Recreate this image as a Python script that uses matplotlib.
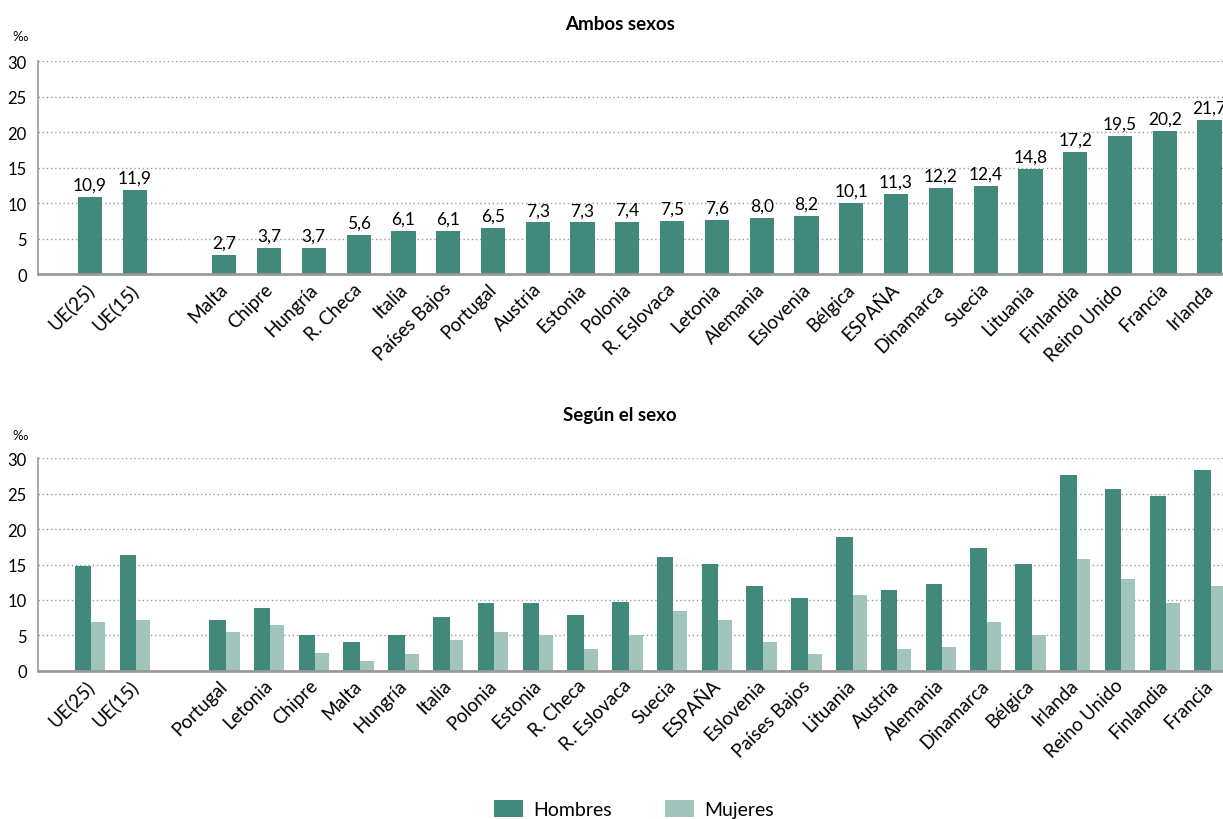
import numpy as np
import matplotlib.pyplot as plt

plt.rcParams['font.family'] = ['Lato', 'DejaVu Sans']

# --- data ---
top_labels = ['UE(25)', 'UE(15)', 'Malta', 'Chipre', 'Hungría', 'R. Checa', 'Italia',
              'Países Bajos', 'Portugal', 'Austria', 'Estonia', 'Polonia', 'R. Eslovaca',
              'Letonia', 'Alemania', 'Eslovenia', 'Bélgica', 'ESPAÑA', 'Dinamarca',
              'Suecia', 'Lituania', 'Finlandia', 'Reino Unido', 'Francia', 'Irlanda']
top_values = [10.9, 11.9, 2.7, 3.7, 3.7, 5.6, 6.1, 6.1, 6.5, 7.3, 7.3, 7.4, 7.5,
              7.6, 8.0, 8.2, 10.1, 11.3, 12.2, 12.4, 14.8, 17.2, 19.5, 20.2, 21.7]

bot_labels = ['UE(25)', 'UE(15)', 'Portugal', 'Letonia', 'Chipre', 'Malta', 'Hungría',
              'Italia', 'Polonia', 'Estonia', 'R. Checa', 'R. Eslovaca', 'Suecia',
              'ESPAÑA', 'Eslovenia', 'Países Bajos', 'Lituania', 'Austria', 'Alemania',
              'Dinamarca', 'Bélgica', 'Irlanda', 'Reino Unido', 'Finlandia', 'Francia']
hombres = [14.8, 16.4, 7.2, 8.9, 5.1, 4.1, 5.1, 7.6, 9.5, 9.5, 7.9, 9.7, 16.1,
           15.1, 12.0, 10.2, 18.9, 11.4, 12.3, 17.4, 15.1, 27.6, 25.6, 24.7, 28.4]
mujeres = [6.9, 7.2, 5.4, 6.4, 2.5, 1.3, 2.3, 4.4, 5.4, 5.1, 3.1, 5.1, 8.5,
           7.2, 4.1, 2.3, 10.7, 3.1, 3.4, 6.9, 5.1, 15.8, 13.0, 9.5, 12.0]

dark = '#40897B'
light = '#A1C4BC'

# slot positions: two EU aggregates, one empty slot, then the countries
pos = np.array([0, 1] + list(range(3, 26)))


def style_axis(ax):
    ax.set_ylim(0, 30)
    ax.set_xlim(-1.16, 25.3)
    ax.set_yticks(range(0, 31, 5))
    ax.yaxis.grid(True, linestyle=(0, (1, 2)), color='#999999', linewidth=1)
    ax.set_axisbelow(True)
    for s in ['top', 'right']:
        ax.spines[s].set_visible(False)
    ax.spines['left'].set_color('#999999')
    ax.spines['left'].set_linewidth(1.2)
    ax.spines['bottom'].set_color('#999999')
    ax.spines['bottom'].set_linewidth(2)
    ax.tick_params(axis='y', length=0, pad=8, labelsize=12)
    ax.tick_params(axis='x', length=0, pad=4, labelsize=13.5)


fig = plt.figure(figsize=(12.23, 8.2), dpi=100)

ax1 = fig.add_axes([38 / 1223, 544.7 / 820, 1185 / 1223, 213 / 820])
bars = ax1.bar(pos, top_values, width=0.54, color=dark)
for b, v in zip(bars, top_values):
    ax1.text(b.get_x() + b.get_width() / 2, v + 0.6, f'{v:.1f}'.replace('.', ','),
             ha='center', va='bottom', fontsize=12.5)
style_axis(ax1)
ax1.set_xticks(pos - 0.12)
ax1.set_xticklabels(top_labels, rotation=45, ha='right', rotation_mode='anchor')

ax2 = fig.add_axes([38 / 1223, 148.3 / 820, 1185 / 1223, 212.4 / 820])
ax2.bar(pos - 0.155, hombres, width=0.37, color=dark, label='Hombres')
ax2.bar(pos + 0.185, mujeres, width=0.31, color=light, label='Mujeres')
style_axis(ax2)
ax2.set_xticks(pos - 0.12)
ax2.set_xticklabels(bot_labels, rotation=45, ha='right', rotation_mode='anchor')

fig.text(620 / 1223, 1 - 25 / 820, 'Ambos sexos', ha='center', va='center',
         fontsize=13.5, fontweight='bold')
fig.text(620 / 1223, 1 - 416 / 820, 'Según el sexo', ha='center', va='center',
         fontsize=13.5, fontweight='bold')
fig.text(12 / 1223, 1 - 37 / 820, '‰', ha='left', va='center', fontsize=9.5)
fig.text(12 / 1223, 1 - 436 / 820, '‰', ha='left', va='center', fontsize=9.5)

fig.legend(loc='upper left', bbox_to_anchor=(494 / 1223, 1 - 801 / 820), ncol=2,
           frameon=False, fontsize=14, handlelength=1.5, handleheight=1.0,
           columnspacing=2.75, handletextpad=0.5, borderpad=0, borderaxespad=0)

fig.savefig('out.png', dpi=100)
